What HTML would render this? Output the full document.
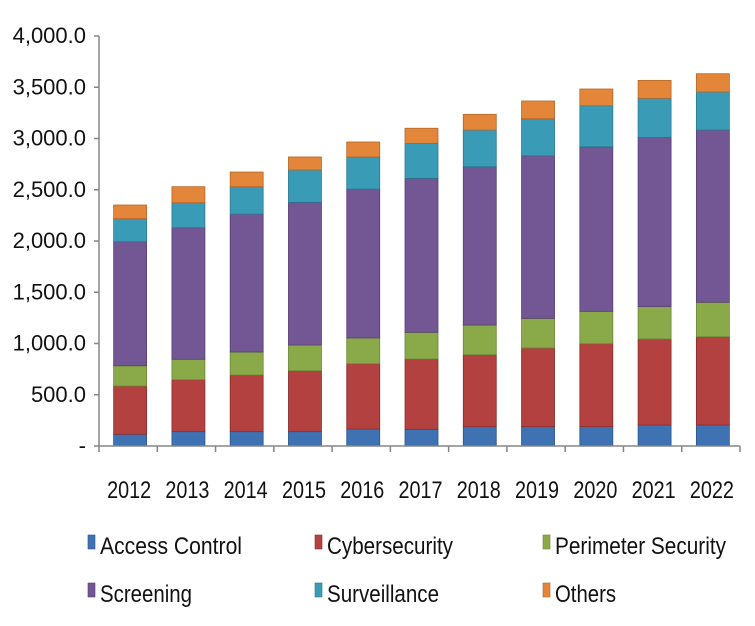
<!DOCTYPE html>
<html><head><meta charset="utf-8"><style>
html,body{margin:0;padding:0;background:#fff;}
svg{display:block;font-family:"Liberation Sans",Arial,sans-serif;}
</style></head><body>
<svg id="chart" width="755" height="626" viewBox="0 0 755 626" xmlns="http://www.w3.org/2000/svg">
<g id="yaxis"></g>
<g id="bars"></g>
<g id="xaxis"></g>
<g id="legend"></g>
</svg>
<script>
const categories = ["2012","2013","2014","2015","2016","2017","2018","2019","2020","2021","2022"];
const seriesNames = ["Access Control","Cybersecurity","Perimeter Security","Screening","Surveillance","Others"];
const accessControl = [114,140,140,140,166,163,189,189,189,205,205];
const cybersecurity = [471,507,553,595,637,686,702,767,809,839,861];
const perimeterSecurity = [198,199,224,250,251,260,289,289,316,316,336];
const screening = [1210,1284,1346,1392,1453,1502,1545,1587,1606,1651,1681];
const surveillance = [225,244,267,316,313,342,358,361,400,381,371];
const others = [133,156,143,127,146,147,153,173,163,175,178];
const yTicks = [0,500,1000,1500,2000,2500,3000,3500,4000];
const yTickLabels = ["-","500.0","1,000.0","1,500.0","2,000.0","2,500.0","3,000.0","3,500.0","4,000.0"];

const series = [accessControl,cybersecurity,perimeterSecurity,screening,surveillance,others];
const colors = ["#3f72b3","#b3413f","#8aaa4a","#735794","#3a9bb6","#e3863a"];
const strokes = ["#2c5689","#8a2f2d","#6a8636","#574170","#2b7a90","#b3672a"];
const NS="http://www.w3.org/2000/svg";
const plotLeft=99, plotRight=740, baseY=446, topY=36, yMax=4000;
const catW=(plotRight-plotLeft)/categories.length, barW=33;
function y(v){return baseY-(v/yMax)*(baseY-topY);}
function xc(i){return plotLeft+catW*(i+0.5)+2;}
function mk(tag,attrs,parent){const e=document.createElementNS(NS,tag);for(const k in attrs)e.setAttribute(k,attrs[k]);parent.appendChild(e);return e;}

const yaxis=document.getElementById('yaxis');
const ax=mk('line',{x1:plotLeft,y1:topY,x2:plotLeft,y2:baseY,stroke:'#868686','stroke-width':1.5},yaxis);


yTicks.forEach((t,i)=>{
  const tk=mk('line',{x1:plotLeft-5,y1:y(t),x2:plotLeft,y2:y(t),stroke:'#868686','stroke-width':1.5},yaxis);
  
  
  const tx=mk('text',{x:86,y:y(t)+7,'text-anchor':'end','font-size':22,fill:'#111'},yaxis);
  tx.textContent=yTickLabels[i];
  
  
});

const bars=document.getElementById('bars');
categories.forEach((c,i)=>{
  let acc=0;
  series.forEach((s,j)=>{
    const y0=y(acc), y1=y(acc+s[i]); acc+=s[i];
    const r=mk('rect',{x:xc(i)-barW/2,y:y1,width:barW,height:y0-y1,fill:colors[j],stroke:strokes[j],'stroke-width':0.8},bars);
    
    
  });
});

const xaxis=document.getElementById('xaxis');
const xl=mk('line',{x1:plotLeft,y1:baseY,x2:plotRight,y2:baseY,stroke:'#868686','stroke-width':1.5},xaxis);


for(let i=0;i<=categories.length;i++){
  const tk=mk('line',{x1:plotLeft+catW*i,y1:baseY,x2:plotLeft+catW*i,y2:baseY+6,stroke:'#868686','stroke-width':1.5},xaxis);
  
  
}
categories.forEach((c,i)=>{
  const tx=mk('text',{x:xc(i)-1,y:498,'text-anchor':'middle','font-size':24,fill:'#111',textLength:44,lengthAdjust:'spacingAndGlyphs'},xaxis);
  tx.textContent=c;
  
  
});

const legend=document.getElementById('legend');
const lx=[88,315,543], ly=[554,602], lw=[142,126,171,92,112,61];
seriesNames.forEach((n,j)=>{
  const col=j%3,row=Math.floor(j/3);
  const g=mk('g',{},legend);
  
  
  mk('rect',{x:lx[col],y:ly[row]-19,width:7,height:14,fill:colors[j],stroke:strokes[j],'stroke-width':0.6},g);
  const t=mk('text',{x:lx[col]+12,y:ly[row],'font-size':24,fill:'#111',textLength:lw[j],lengthAdjust:'spacingAndGlyphs'},g);
  t.textContent=n;
});
</script>
</body></html>
